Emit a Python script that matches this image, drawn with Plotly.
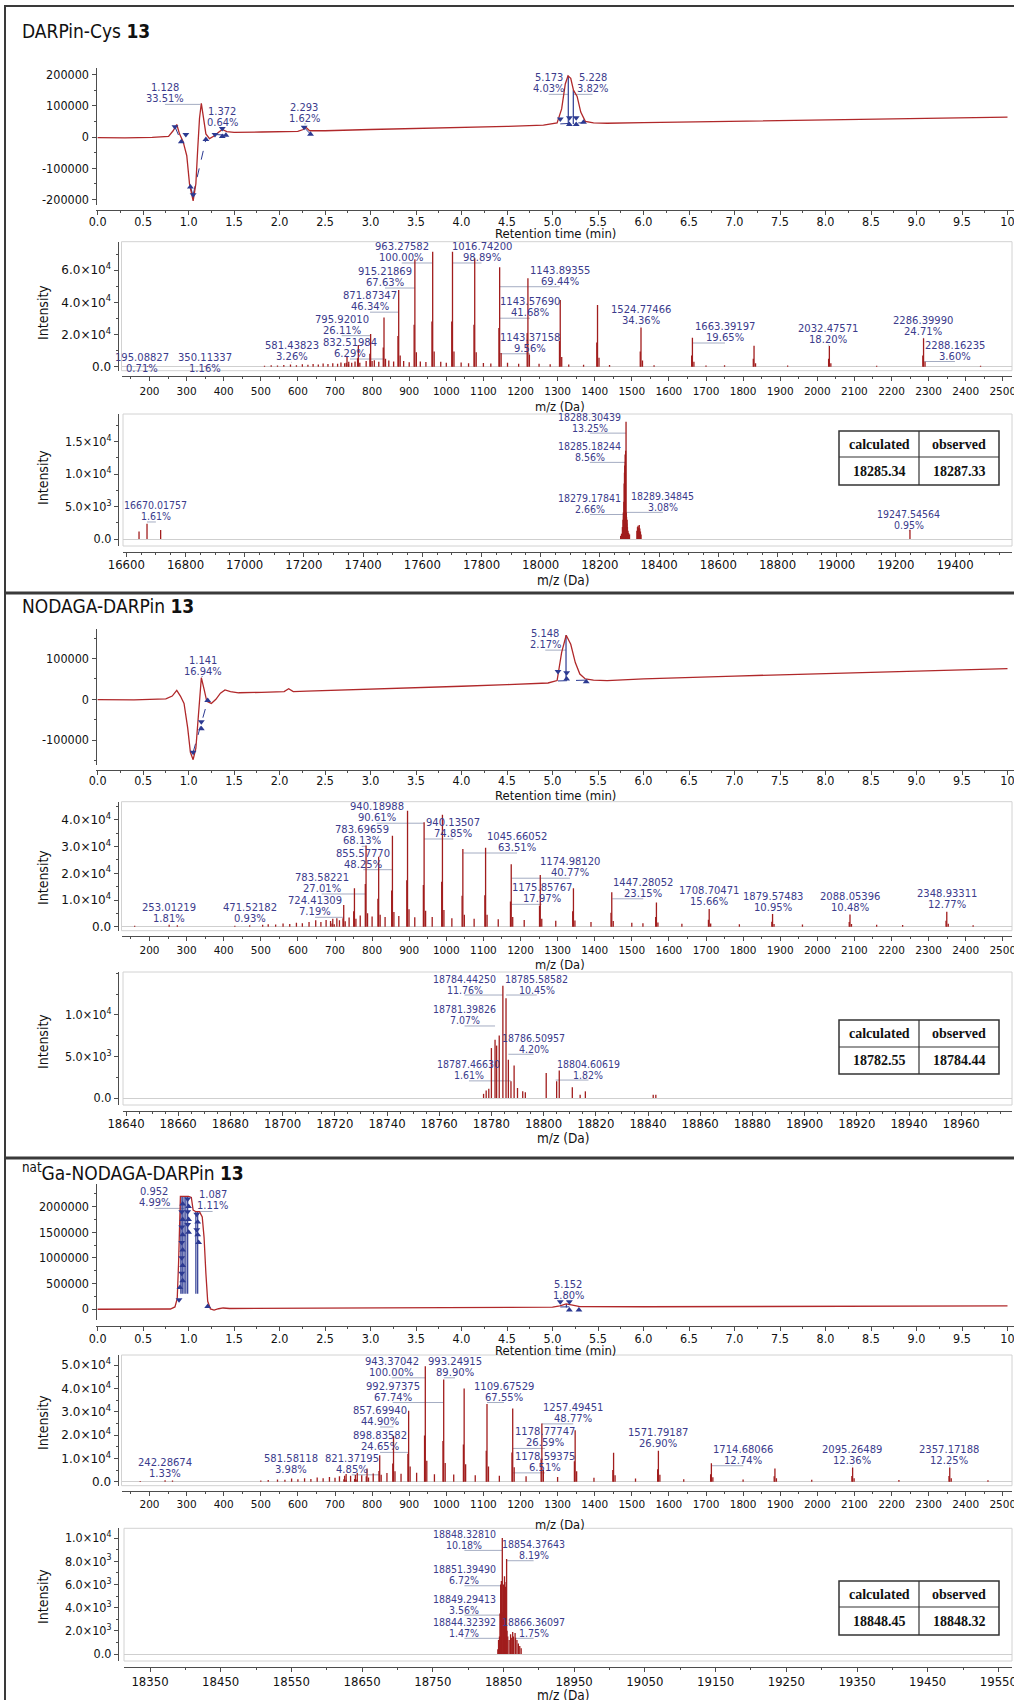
import plotly.graph_objects as go

W, H = 1014, 1700

# ======================= DATA =======================
PANEL_TITLES = ["DARPin-Cys <b>13</b>", "NODAGA-DARPin <b>13</b>",
                "<sup>nat</sup>Ga-NODAGA-DARPin <b>13</b>"]
TABLE_HEAD = ["calculated", "observed"]
TABLE_CALC = ["18285.34", "18782.55", "18848.45"]
TABLE_OBS = ["18287.33", "18784.44", "18848.32"]

# ---- chromatograms: retention time (min) / signal ----
CH_XTICKS = [0.0, 0.5, 1.0, 1.5, 2.0, 2.5, 3.0, 3.5, 4.0, 4.5, 5.0, 5.5, 6.0, 6.5,
             7.0, 7.5, 8.0, 8.5, 9.0, 9.5, 10.0]
CH_XTICK_TEXT = ["0.0", "0.5", "1.0", "1.5", "2.0", "2.5", "3.0", "3.5", "4.0", "4.5",
                 "5.0", "5.5", "6.0", "6.5", "7.0", "7.5", "8.0", "8.5", "9.0", "9.5", "10"]

CH1_T = [0.0, 0.3, 0.6, 0.78, 0.83, 0.87, 0.9, 0.94, 0.98, 1.01, 1.05, 1.08, 1.1, 1.12,
         1.14, 1.16, 1.19, 1.23, 1.28, 1.33, 1.37, 1.42, 1.5, 1.8, 2.2, 2.26, 2.29, 2.33,
         2.5, 3.0, 3.5, 4.0, 4.5, 4.9, 5.05, 5.1, 5.14, 5.17, 5.2, 5.23, 5.27, 5.31, 5.36,
         5.45, 5.6, 6.0, 7.0, 8.0, 9.0, 10.0]
CH1_V = [-2000, -3000, -1000, 2000, 20000, 40000, 10000, -15000, -60000, -150000, -205000,
         -150000, -40000, 60000, 108000, 70000, 10000, -5000, 3000, 15000, 24000, 17000,
         15000, 16000, 18000, 24000, 31000, 20000, 20000, 24000, 27000, 30000, 34000, 38000,
         45000, 90000, 170000, 196000, 188000, 150000, 130000, 80000, 50000, 45000, 44000,
         46000, 51000, 56000, 60000, 64000]
CH1_DN_T = [0.85, 0.97, 1.05, 1.29, 1.37, 2.27, 5.085, 5.185, 5.26]
CH1_DN_V = [33000, 8000, -185000, 8000, 27000, 31000, 58000, 62000, 62000]
CH1_UP_T = [0.92, 1.02, 1.19, 1.37, 1.41, 2.34, 5.185, 5.26, 5.34]
CH1_UP_V = [-15000, -160000, -8000, 2000, 6000, 9000, 40000, 40000, 47000]
CH1_SOLID = [(5.173, 196000, 5.173, 42000), (5.228, 150000, 5.228, 42000),
             (1.02, -160000, 1.05, -190000)]
CH1_DASH = [(0.85, 33000, 0.92, -15000), (1.05, -185000, 1.19, -8000),
            (1.29, 8000, 1.41, 6000), (2.27, 31000, 2.34, 9000), (5.085, 42000, 5.34, 46000)]
CH1_YTICKS = [-200000, -100000, 0, 100000, 200000]
CH1_LBL = [("1.128", "33.51%"), ("1.372", "0.64%"), ("2.293", "1.62%"),
           ("5.173", "4.03%"), ("5.228", "3.82%")]

CH2_T = [0.0, 0.4, 0.75, 0.82, 0.87, 0.91, 0.95, 0.99, 1.02, 1.05, 1.08, 1.11, 1.14, 1.17,
         1.2, 1.25, 1.3, 1.35, 1.4, 1.46, 1.55, 1.8, 2.05, 2.1, 2.15, 2.3, 2.6, 3.0, 3.5,
         4.0, 4.5, 4.95, 5.05, 5.1, 5.15, 5.2, 5.25, 5.3, 5.36, 5.45, 5.6, 6.0, 7.0, 8.0,
         9.0, 10.0]
CH2_V = [-1000, -1500, 1000, 8000, 22000, 8000, -10000, -70000, -130000, -148000, -120000,
         -20000, 53000, 25000, -5000, -10000, 0, 15000, 23000, 19000, 16000, 17000, 19000,
         26000, 19000, 20000, 22000, 24000, 28000, 32000, 36000, 40000, 46000, 115000,
         157000, 135000, 90000, 62000, 50000, 47000, 46000, 50000, 57000, 63000, 69000, 75000]
CH2_DN_T = [5.06, 5.155, 1.05, 1.14]
CH2_DN_V = [68000, 65000, -130000, -55000]
CH2_UP_T = [5.155, 5.37, 1.14, 1.21]
CH2_UP_V = [50000, 43000, -72000, -3000]
CH2_SOLID = [(5.148, 157000, 5.148, 50000)]
CH2_DASH = [(5.06, 45000, 5.37, 47000), (1.05, -130000, 1.21, -3000)]
CH2_YTICKS = [-100000, 0, 100000]
CH2_LBL = [("1.141", "16.94%"), ("5.148", "2.17%")]

CH3_T = [0.0, 0.5, 0.8, 0.85, 0.875, 0.89, 0.9, 0.91, 0.95, 1.0, 1.03, 1.05, 1.08, 1.12,
         1.15, 1.17, 1.19, 1.21, 1.24, 1.28, 1.33, 1.38, 1.45, 2.0, 3.0, 4.0, 5.0, 5.08,
         5.15, 5.22, 5.3, 6.0, 7.0, 8.0, 9.0, 10.0]
CH3_V = [-5000, -4000, 0, 40000, 200000, 900000, 1800000, 2200000, 2200000, 2200000,
         2180000, 1930000, 1900000, 1900000, 1800000, 1400000, 700000, 150000, 0, -20000,
         5000, 20000, 10000, 12000, 18000, 25000, 35000, 60000, 100000, 75000, 45000, 44000,
         48000, 52000, 56000, 60000]
CH3_DN_T = [0.895, 0.925, 0.925, 0.925, 0.925, 0.925, 0.99, 0.99, 0.99, 1.09, 1.09, 5.085, 5.185]
CH3_DN_V = [180000, 1900000, 1600000, 1300000, 1000000, 700000, 2150000, 1900000, 1650000,
            1850000, 1550000, 140000, 140000]
CH3_UP_T = [0.905, 0.935, 0.935, 0.935, 0.935, 0.935, 0.935, 1.0, 1.0, 1.0, 1.1, 1.1, 1.11,
            1.21, 5.185, 5.29]
CH3_UP_V = [420000, 2050000, 1750000, 1450000, 1150000, 850000, 550000, 2000000, 1750000,
            1500000, 1700000, 1450000, 1300000, 50000, -20000, -20000]
CH3_SOLID = [(0.915, 300000, 0.915, 2200000), (0.93, 300000, 0.93, 2200000),
             (0.95, 300000, 0.95, 2200000), (0.97, 300000, 0.97, 2200000),
             (0.99, 300000, 0.99, 2200000), (1.08, 300000, 1.08, 1900000),
             (1.1, 300000, 1.1, 1900000), (5.152, 30000, 5.152, 100000)]
CH3_DASH = [(5.085, 40000, 5.29, 45000)]
CH3_YTICKS = [0, 500000, 1000000, 1500000, 2000000]
CH3_LBL = [("0.952", "4.99%"), ("1.087", "1.11%"), ("5.152", "1.80%")]

# ---- ESI mass spectra: m/z / intensity ----
MS1_MZ = [732.4, 762.9, 796.0, 832.1, 871.7, 915.3, 963.3, 1016.7, 1076.6, 1143.8, 1220.0,
          1307.1, 1407.6, 1524.8, 1663.4, 1829.5, 2032.5, 2286.4]
MS1_INT = [6500, 13500, 20300, 30600, 47600, 66700, 71400, 71400, 67300, 61700, 54900,
           41400, 38300, 24400, 18000, 13000, 12800, 17600]
MS1_SAT_MZ = [730.4, 760.9, 794.0, 830.1, 869.7, 913.3, 961.3, 1014.7, 1074.6, 1141.8,
              1218.0, 1305.1, 1405.6, 1522.8, 1661.4, 1827.5, 2030.5, 2284.4]
MS1_SAT_INT = [2500, 5200, 8000, 12000, 19000, 26000, 28000, 28000, 26000, 24000, 21000,
               16000, 15000, 9500, 7000, 5000, 5000, 7000]
MS1_FOOT_MZ = [736.4, 766.9, 800.0, 836.1, 875.7, 919.3, 967.3, 1020.7, 1080.6, 1147.8,
               1224.0, 1311.1, 1411.6, 1528.8, 1667.4, 1833.5, 2036.5, 2290.4]
MS1_FOOT_INT = [1500, 2500, 3500, 5000, 7000, 9000, 9500, 9500, 9000, 8500, 7500, 6000,
                5500, 3800, 3000, 2200, 2200, 3000]
MS1_NOISE_MZ = [195, 350, 510, 528, 545, 562, 580, 596, 612, 627, 641, 655, 668, 681, 694,
                707, 716, 726, 737, 745, 754, 784, 806, 818, 845, 858, 885, 900, 930, 945,
                985, 1000, 1040, 1060, 1100, 1120, 1165, 1195, 1250, 1280, 1330, 1370, 1440,
                1560, 1700, 1750, 1920, 2160, 2440]
MS1_NOISE_INT = [400, 500, 600, 900, 700, 1100, 1300, 900, 1500, 1200, 1700, 1400, 2000,
                 1600, 2200, 1900, 2600, 2100, 3000, 2400, 3200, 3500, 4000, 3000, 3800,
                 3200, 3500, 2800, 3300, 2900, 3000, 2500, 2600, 2200, 2300, 2000, 2400,
                 1800, 1900, 1500, 1400, 1200, 1000, 900, 800, 900, 700, 600, 600]
MS1_LBL = [("195.08827", "0.71%"), ("350.11337", "1.16%"), ("581.43823", "3.26%"),
           ("832.51984", "6.29%"), ("795.92010", "26.11%"), ("871.87347", "46.34%"),
           ("915.21869", "67.63%"), ("963.27582", "100.00%"), ("1016.74200", "98.89%"),
           ("1143.89355", "69.44%"), ("1143.57690", "41.68%"), ("1143.37158", "9.56%"),
           ("1524.77466", "34.36%"), ("1663.39197", "19.65%"), ("2032.47571", "18.20%"),
           ("2286.39990", "24.71%"), ("2288.16235", "3.60%")]
MS1_YTICKS = [0, 20000, 40000, 60000]
MS1_YTICK_TEXT = ["0.0", "2.0×10<sup>4</sup>", "4.0×10<sup>4</sup>", "6.0×10<sup>4</sup>"]

MS2_MZ = [694.0, 723.5, 752.4, 783.7, 817.7, 854.8, 895.5, 940.2, 989.6, 1044.6, 1105.9,
          1175.0, 1253.3, 1342.7, 1446.0, 1566.4, 1708.6, 1879.4, 2088.1, 2349.0]
MS2_INT = [3000, 8100, 14400, 30400, 26200, 34100, 43400, 39100, 41900, 29100, 29600,
           23400, 19400, 14400, 12900, 9100, 6600, 4750, 4600, 5600]
MS2_SAT_MZ = [692.0, 721.5, 750.4, 781.7, 815.7, 852.8, 893.5, 938.2, 987.6, 1042.6,
              1103.9, 1173.0, 1251.3, 1340.7, 1444.0, 1564.4, 1706.6, 1877.4, 2086.1, 2347.0]
MS2_SAT_INT = [1200, 3200, 5800, 16000, 10500, 13600, 17400, 15600, 16800, 11600, 11800,
               9400, 7800, 5800, 5200, 3600, 2600, 1900, 1800, 2200]
MS2_FOOT_MZ = [698.0, 727.5, 756.4, 787.7, 821.7, 858.8, 899.5, 944.2, 993.6, 1048.6,
               1109.9, 1179.0, 1257.3, 1346.7, 1450.0, 1570.4, 1712.6, 1883.4, 2092.1, 2353.0]
MS2_FOOT_INT = [900, 2000, 3000, 5000, 4500, 5500, 6500, 6000, 6300, 4500, 4500, 3600,
                3000, 2300, 2100, 1600, 1200, 1000, 1000, 1100]
MS2_NOISE_MZ = [160, 253, 275, 430, 470, 505, 520, 540, 560, 578, 596, 612, 630, 648, 662,
                676, 688, 705, 712, 738, 768, 800, 835, 872, 915, 962, 1015, 1075, 1140,
                1210, 1295, 1390, 1500, 1530, 1635, 1790, 1960, 2160, 2230, 2420]
MS2_NOISE_INT = [400, 700, 500, 400, 500, 700, 900, 800, 1200, 1000, 1500, 1300, 1800,
                 2400, 1800, 2500, 2100, 3200, 2400, 3400, 4200, 3800, 3600, 4000, 3500,
                 3600, 3200, 3000, 2800, 2500, 2200, 1800, 1500, 1300, 1100, 900, 800, 700,
                 600, 500]
MS2_LBL = [("253.01219", "1.81%"), ("471.52182", "0.93%"), ("724.41309", "7.19%"),
           ("783.58221", "27.01%"), ("855.57770", "48.25%"), ("783.69659", "68.13%"),
           ("940.18988", "90.61%"), ("940.13507", "74.85%"), ("1045.66052", "63.51%"),
           ("1174.98120", "40.77%"), ("1175.85767", "17.97%"), ("1447.28052", "23.15%"),
           ("1708.70471", "15.66%"), ("1879.57483", "10.95%"), ("2088.05396", "10.48%"),
           ("2348.93311", "12.77%")]
MS2_YTICKS = [0, 10000, 20000, 30000, 40000]
MS2_YTICK_TEXT = ["0.0", "1.0×10<sup>4</sup>", "2.0×10<sup>4</sup>", "3.0×10<sup>4</sup>",
                  "4.0×10<sup>4</sup>"]

MS3_MZ = [725.9, 754.9, 786.3, 820.5, 857.7, 898.5, 943.4, 993.0, 1048.1, 1109.7, 1179.0,
          1257.6, 1347.3, 1450.9, 1571.7, 1714.5, 1885.8, 2095.2, 2357.0]
MS3_INT = [2500, 2900, 5700, 11400, 19600, 30400, 49600, 43900, 40000, 33300, 31400,
           25000, 22100, 12400, 13300, 7900, 5700, 6100, 6100]
MS3_SAT_MZ = [723.9, 752.9, 784.3, 818.5, 855.7, 896.5, 941.4, 991.0, 1046.1, 1107.7,
              1177.0, 1255.6, 1345.3, 1448.9, 1569.7, 1712.5, 1883.8, 2093.2, 2355.0]
MS3_SAT_INT = [1000, 1200, 2300, 4600, 7800, 12000, 19800, 17500, 16000, 13300, 12500,
               10000, 8800, 5000, 5300, 3200, 2300, 2400, 2400]
MS3_FOOT_MZ = [729.9, 758.9, 790.3, 824.5, 861.7, 902.5, 947.4, 997.0, 1052.1, 1113.7,
               1183.0, 1261.6, 1351.3, 1454.9, 1575.7, 1718.5, 1889.8, 2099.2, 2361.0]
MS3_FOOT_INT = [800, 900, 1800, 3000, 4500, 6500, 9000, 8000, 7500, 6500, 6200, 5000,
                4500, 2800, 3000, 1900, 1500, 1500, 1500]
MS3_NOISE_MZ = [175, 242, 262, 500, 520, 545, 565, 583, 600, 618, 635, 652, 668, 685, 700,
                712, 730, 742, 760, 772, 803, 840, 878, 920, 968, 1020, 1078, 1143, 1215,
                1300, 1398, 1510, 1640, 1800, 1985, 2220, 2460]
MS3_NOISE_INT = [300, 600, 500, 500, 700, 900, 800, 1400, 1100, 1500, 1200, 1800, 1500,
                 2000, 1700, 2300, 3300, 2500, 3800, 2800, 3500, 3700, 3400, 3800, 3200,
                 3100, 2800, 2600, 2300, 2000, 1700, 1400, 1100, 900, 800, 700, 600]
MS3_LBL = [("242.28674", "1.33%"), ("581.58118", "3.98%"), ("821.37195", "4.85%"),
           ("898.83582", "24.65%"), ("857.69940", "44.90%"), ("992.97375", "67.74%"),
           ("943.37042", "100.00%"), ("993.24915", "89.90%"), ("1109.67529", "67.55%"),
           ("1257.49451", "48.77%"), ("1178.77747", "26.59%"), ("1178.59375", "6.51%"),
           ("1571.79187", "26.90%"), ("1714.68066", "12.74%"), ("2095.26489", "12.36%"),
           ("2357.17188", "12.25%")]
MS3_YTICKS = [0, 10000, 20000, 30000, 40000, 50000]
MS3_YTICK_TEXT = ["0.0", "1.0×10<sup>4</sup>", "2.0×10<sup>4</sup>", "3.0×10<sup>4</sup>",
                  "4.0×10<sup>4</sup>", "5.0×10<sup>4</sup>"]

# ---- deconvoluted spectra: mass / intensity ----
DC1_MZ = [16643, 16670.0, 16716, 18270, 18273, 18276, 18278, 18279.2, 18280, 18281, 18282,
          18283, 18284, 18285.2, 18286, 18287, 18288.3, 18289.3, 18290, 18291, 18292, 18293,
          18295, 18297, 18300, 18325, 18327, 18329, 18331, 18333, 18335, 18337, 18339, 19247.5]
DC1_INT = [1160, 2330, 1380, 490, 820, 1830, 2950, 4060, 3500, 5740, 8530, 10200, 11320,
           13000, 11880, 13560, 18020, 4060, 3390, 2390, 2950, 1830, 1270, 940, 710, 1270,
           1830, 2050, 1720, 2160, 1600, 1160, 710, 1440]
DC1_LBL = [("18288.30439", "13.25%"), ("18285.18244", "8.56%"), ("18279.17841", "2.66%"),
           ("18289.34845", "3.08%"), ("16670.01757", "1.61%"), ("19247.54564", "0.95%")]
DC1_YTICKS = [0, 5000, 10000, 15000]
DC1_YTICK_TEXT = ["0.0", "5.0×10<sup>3</sup>", "1.0×10<sup>4</sup>", "1.5×10<sup>4</sup>"]

DC2_MZ = [18777, 18778, 18779, 18780, 18781.4, 18782, 18783, 18784.4, 18785.6, 18786.5,
          18787.5, 18788.7, 18790, 18792, 18793, 18801, 18805, 18806, 18811, 18814, 18816,
          18842, 18843]
DC2_INT = [500, 900, 1100, 6000, 7000, 6300, 7500, 13500, 12000, 4600, 2000, 3900, 1200,
           800, 700, 3000, 2000, 3300, 1300, 400, 800, 400, 400]
DC2_LBL = [("18784.44250", "11.76%"), ("18785.58582", "10.45%"), ("18781.39826", "7.07%"),
           ("18786.50957", "4.20%"), ("18787.46630", "1.61%"), ("18804.60619", "1.82%")]
DC2_YTICKS = [0, 5000, 10000]
DC2_YTICK_TEXT = ["0.0", "5.0×10<sup>3</sup>", "1.0×10<sup>4</sup>"]

DC3_MZ = [18842, 18843, 18844.3, 18845, 18846, 18847, 18848.3, 18849.3, 18850, 18851.4,
          18852, 18853, 18854.4, 18855, 18856, 18858, 18860, 18861, 18863, 18864, 18866.4,
          18867, 18869, 18871, 18873, 18875]
DC3_INT = [400, 1200, 1500, 3500, 6000, 6300, 10000, 3600, 6000, 6700, 6200, 5800, 8200,
           2000, 1500, 1200, 1700, 1400, 1900, 1500, 1800, 1400, 1200, 900, 700, 500]
DC3_LBL = [("18848.32810", "10.18%"), ("18854.37643", "8.19%"), ("18851.39490", "6.72%"),
           ("18849.29413", "3.56%"), ("18844.32392", "1.47%"), ("18866.36097", "1.75%")]
DC3_YTICKS = [0, 2000, 4000, 6000, 8000, 10000]
DC3_YTICK_TEXT = ["0.0", "2.0×10<sup>3</sup>", "4.0×10<sup>3</sup>", "6.0×10<sup>3</sup>",
                  "8.0×10<sup>3</sup>", "1.0×10<sup>4</sup>"]

# ======================= LAYOUT GEOMETRY (pixels) =======================
NARROW = "Liberation Sans Narrow, DejaVu Sans Condensed, Arial Narrow, sans-serif"
VERD = "DejaVu Sans, Verdana, sans-serif"
COND = "DejaVu Sans Condensed, DejaVu Sans, sans-serif"
SERIF = "Liberation Serif, Times New Roman, serif"
RED = "#a11d1d"
CHRED = "#b0282a"
BLUE = "#2c3a92"
LBLC = "#3b3b8c"
LEAD = "#a4acc2"
AX = "#4d4d4d"
FRAME = "#d2d2d2"

MSX = (200, 149.5, 2400, 965.7)
CHX = (0, 97.6, 10, 1007.5)
G = {
    'c1': dict(n=1, xm=CHX, ym=(0, 137.0, 100000, 105.8), dx=(95.5, 1014), dy=(68, 205), xline=210, yline=95.5, so=-4),
    'm1': dict(n=2, xm=MSX, ym=(0, 366.7, 20000, 334.5), dx=(121.5, 1012), dy=(241.7, 370.7), xline=375.7, yline=117.5, so=2),
    'd1': dict(n=3, xm=(16600, 126.3, 19400, 955.1), ym=(0, 539, 5000, 506.5), dx=(123, 1012), dy=(414, 546), xline=552, yline=118, so=-4),
    'c2': dict(n=4, xm=CHX, ym=(0, 699.3, 100000, 658.5), dx=(95.5, 1014), dy=(629, 765), xline=770, yline=95.5, so=-5),
    'm2': dict(n=5, xm=MSX, ym=(0, 926.7, 10000, 900.0), dx=(121.5, 1012), dy=(801.7, 930.7), xline=935.7, yline=117.5, so=1),
    'd2': dict(n=6, xm=(18640, 126, 18960, 961.2), ym=(0, 1098, 5000, 1056.4), dx=(123, 1012), dy=(972, 1105), xline=1111, yline=118, so=-4),
    'c3': dict(n=7, xm=CHX, ym=(0, 1309, 500000, 1283.4), dx=(95.5, 1014), dy=(1184, 1320), xline=1325.5, yline=95.5, so=-3),
    'm3': dict(n=8, xm=MSX, ym=(0, 1481.7, 10000, 1458.4), dx=(121.5, 1012), dy=(1355, 1485.7), xline=1490.7, yline=117.5, so=0),
    'd3': dict(n=9, xm=(18350, 150, 19350, 857), ym=(0, 1654, 2000, 1630.8), dx=(124, 1012), dy=(1528.3, 1661), xline=1667, yline=118, so=-2),
}
# label placements (data coordinates of label centre)
CH1_LBL_POS = [(0.74, 139800), (1.371, 64500), (2.27, 77400), (4.957, 172000), (5.44, 172000)]
CH2_LBL_POS = [(1.158, 82800), (4.92, 147500)]
CH3_LBL_POS = [(0.625, 2180000), (1.264, 2120000), (5.17, 364600)]
MS1_LBL_POS = [(179, 2400), (349.6, 2400), (583, 9560), (740.4, 11600), (718, 26100),
               (794.3, 40700), (834.8, 55700), (879.8, 71250), (1095, 71250), (1306, 56500),
               (1225.6, 36950), (1225.6, 14850), (1523.9, 32100), (1751, 21550),
               (2029.6, 20200), (2285.8, 25150), (2371, 10060)]
MS2_LBL_POS = [(253.4, 5300), (470.9, 5000), (646, 7640), (664, 16370), (776.3, 25470),
               (772, 34230), (812.3, 42880), (1018.9, 36970), (1190.7, 31720),
               (1333.4, 22280), (1257, 12500), (1531, 14570), (1709, 11390), (1880, 9250),
               (2088, 9250), (2349, 10190)]
MS3_LBL_POS = [(241.8, 5950), (581.4, 7670), (745, 7670), (821.3, 17300), (821.3, 28200),
               (855.5, 38700), (852.8, 49300), (1023.5, 49300), (1155.4, 38700),
               (1342.3, 29530), (1266, 19000), (1266, 8500), (1571.4, 18860),
               (1800.5, 11570), (2094.3, 11570), (2355.6, 11570)]
DC1_LBL_POS = [(18166, 17980), (18166, 13480), (18166, 5460), (18413, 5790), (16700, 4310),
               (19244, 2970)]
DC2_LBL_POS = [(18769.7, 13700), (18797.4, 13700), (18769.7, 9980), (18796.2, 6580),
               (18771.4, 3380), (18817.2, 3480)]
DC3_LBL_POS = [(18794.7, 9880), (18892.6, 8990), (18794.7, 6830), (18794.7, 4300),
               (18794.7, 2300), (18892.6, 2300)]
TBL_GEOM = [(839, 919, 999, 431, 457, 485), (839, 919, 999, 1020, 1047, 1074),
            (839, 919, 999, 1581, 1607, 1635)]
TITLE_Y = [31, 606, 1172]
CH_TITLE_Y = {'c1': 233, 'c2': 795, 'c3': 1350}
MZ_TITLE_Y = {'m1': 406.5, 'm2': 964.5, 'm3': 1524.5, 'd1': 580, 'd2': 1138, 'd3': 1695}
INT_TITLE_Y = {'m1': 313, 'm2': 878, 'm3': 1423, 'd1': 478, 'd2': 1042, 'd3': 1597}

# ======================= BUILD =======================
fig = go.Figure()
shapes, annos, axes = [], [], {}


def rng(m, a, b):
    v1, p1, v2, p2 = m
    s = (p2 - p1) / (v2 - v1)
    return [v1 + (a - p1) / s, v1 + (b - p1) / s]


def yv2p(g, v):
    v1, p1, v2, p2 = g['ym']
    return p1 + (v - v1) * (p2 - p1) / (v2 - v1)


def yp2v(g, p):
    v1, p1, v2, p2 = g['ym']
    return v1 + (p - p1) * (v2 - v1) / (p2 - p1)


def refs(g):
    s = '' if g['n'] == 1 else str(g['n'])
    return 'x' + s, 'y' + s


def setup_axes(g, xt, yt, frame=False, zero=False):
    s = '' if g['n'] == 1 else str(g['n'])
    base = dict(showline=True, linecolor=AX, linewidth=1, ticks='outside', ticklen=4,
                tickcolor=AX, tickwidth=1, showgrid=False, zeroline=False, fixedrange=True,
                anchor='free')
    xa = dict(base, domain=[g['dx'][0] / W, g['dx'][1] / W], range=rng(g['xm'], *g['dx']),
              position=1 - g['xline'] / H, ticklabeloverflow='allow',
              ticklabelstandoff=g['so'])
    xa.update(xt)
    ya = dict(base, domain=[1 - g['dy'][1] / H, 1 - g['dy'][0] / H],
              range=rng(g['ym'], g['dy'][1], g['dy'][0]), position=g['yline'] / W)
    if zero:
        ya.update(zeroline=True, zerolinecolor='#cfcfcf', zerolinewidth=1)
    ya.update(yt)
    axes['xaxis' + s] = xa
    axes['yaxis' + s] = ya
    if frame:
        shapes.append(dict(type='rect', xref='paper', yref='paper', layer='below',
                           x0=g['dx'][0] / W, x1=g['dx'][1] / W,
                           y0=1 - g['dy'][1] / H, y1=1 - g['dy'][0] / H,
                           line=dict(color=FRAME, width=1)))


def add_trace(g, tr):
    xr, yr = refs(g)
    tr.update(xaxis=xr, yaxis=yr, showlegend=False, hoverinfo='skip')
    fig.add_trace(tr)


def sticks(*pairs):
    xs, ys = [], []
    for ms, hs in pairs:
        for m, h in zip(ms, hs):
            xs += [m, m, None]
            ys += [0, h, None]
    return xs, ys


def segs(lst):
    xs, ys = [], []
    for t0, v0, t1, v1 in lst:
        xs += [t0, t1, None]
        ys += [v0, v1, None]
    return xs, ys


def add_labels(g, lbls, pos, font, gap=5.5):
    xr, yr = refs(g)
    for (a, b), (lx, ly) in zip(lbls, pos):
        for txt, dy in ((a, gap), (b, -gap)):
            annos.append(dict(xref=xr, yref=yr, x=lx, y=ly, yshift=dy, text=txt,
                              showarrow=False, font=font, xanchor='center', yanchor='middle',
                              borderpad=0))
        yb = yp2v(g, yv2p(g, ly) + 2 * gap)
        shapes.append(dict(type='line', xref=xr, yref=yr, x0=lx, x1=float(a), y0=yb, y1=yb,
                           layer='below', line=dict(color=LEAD, width=1)))


def ptext(px, py, text, font, xanchor='center', angle=0):
    annos.append(dict(xref='paper', yref='paper', x=px / W, y=1 - py / H, text=text,
                      showarrow=False, font=font, xanchor=xanchor, yanchor='middle',
                      textangle=angle, borderpad=0))


# ---- chromatograms ----
ch_sets = [('c1', CH1_T, CH1_V, CH1_DN_T, CH1_DN_V, CH1_UP_T, CH1_UP_V, CH1_SOLID, CH1_DASH,
            CH1_YTICKS, CH1_LBL, CH1_LBL_POS, 50000),
           ('c2', CH2_T, CH2_V, CH2_DN_T, CH2_DN_V, CH2_UP_T, CH2_UP_V, CH2_SOLID, CH2_DASH,
            CH2_YTICKS, CH2_LBL, CH2_LBL_POS, 50000),
           ('c3', CH3_T, CH3_V, CH3_DN_T, CH3_DN_V, CH3_UP_T, CH3_UP_V, CH3_SOLID, CH3_DASH,
            CH3_YTICKS, CH3_LBL, CH3_LBL_POS, 250000)]
tickfont_n = dict(family=NARROW, size=12.5, color='#111')
for key, t, v, dnt, dnv, upt, upv, solid, dash, yt, lbl, lpos, ymin in ch_sets:
    g = G[key]
    setup_axes(g,
               dict(tickmode='array', tickvals=CH_XTICKS, ticktext=CH_XTICK_TEXT,
                    tickfont=tickfont_n, minor=dict(dtick=0.25, tick0=0, ticklen=2, tickcolor=AX)),
               dict(tickmode='array', tickvals=yt, ticktext=[str(x) for x in yt],
                    tickfont=tickfont_n, minor=dict(dtick=ymin, tick0=0, ticklen=2, tickcolor=AX)))
    sx, sy = segs(solid)
    add_trace(g, go.Scatter(x=sx, y=sy, mode='lines', line=dict(color=BLUE, width=1.2)))
    dx_, dy_ = segs(dash)
    add_trace(g, go.Scatter(x=dx_, y=dy_, mode='lines', line=dict(color=BLUE, width=1, dash='dash')))
    add_trace(g, go.Scatter(x=t, y=v, mode='lines', line=dict(color=CHRED, width=1.3)))
    add_trace(g, go.Scatter(x=dnt, y=dnv, mode='markers',
                            marker=dict(symbol='triangle-down', size=6, color=BLUE)))
    add_trace(g, go.Scatter(x=upt, y=upv, mode='markers',
                            marker=dict(symbol='triangle-up', size=6, color=BLUE)))
    add_labels(g, lbl, lpos, dict(family=NARROW, size=11, color=LBLC))
    ptext(555, CH_TITLE_Y[key], 'Retention time (min)', dict(family=NARROW, size=13, color='#111'))

# ---- ESI spectra ----
ms_sets = [('m1', (MS1_MZ, MS1_INT), (MS1_SAT_MZ, MS1_SAT_INT), (MS1_FOOT_MZ, MS1_FOOT_INT),
            (MS1_NOISE_MZ, MS1_NOISE_INT), MS1_YTICKS, MS1_YTICK_TEXT, 10000, MS1_LBL, MS1_LBL_POS),
           ('m2', (MS2_MZ, MS2_INT), (MS2_SAT_MZ, MS2_SAT_INT), (MS2_FOOT_MZ, MS2_FOOT_INT),
            (MS2_NOISE_MZ, MS2_NOISE_INT), MS2_YTICKS, MS2_YTICK_TEXT, 5000, MS2_LBL, MS2_LBL_POS),
           ('m3', (MS3_MZ, MS3_INT), (MS3_SAT_MZ, MS3_SAT_INT), (MS3_FOOT_MZ, MS3_FOOT_INT),
            (MS3_NOISE_MZ, MS3_NOISE_INT), MS3_YTICKS, MS3_YTICK_TEXT, 5000, MS3_LBL, MS3_LBL_POS)]
for key, main, sat, foot, noise, yt, ytt, ymin, lbl, lpos in ms_sets:
    g = G[key]
    setup_axes(g,
               dict(tickmode='linear', tick0=0, dtick=100, tickformat='d',
                    tickfont=dict(family=VERD, size=10.5, color='#111'),
                    minor=dict(dtick=50, tick0=0, ticklen=2, tickcolor=AX)),
               dict(tickmode='array', tickvals=yt, ticktext=ytt,
                    tickfont=dict(family=VERD, size=12, color='#111'),
                    minor=dict(dtick=ymin, tick0=0, ticklen=2, tickcolor=AX)),
               frame=True, zero=True)
    sx, sy = sticks(noise, foot, sat, main)
    add_trace(g, go.Scatter(x=sx, y=sy, mode='lines', line=dict(color=RED, width=1.3)))
    add_labels(g, lbl, lpos, dict(family=VERD, size=10, color=LBLC))
    ptext(560, MZ_TITLE_Y[key], 'm/z (Da)', dict(family=VERD, size=11.5, color='#111'))

# ---- deconvoluted spectra ----
dc_sets = [('d1', DC1_MZ, DC1_INT, DC1_YTICKS, DC1_YTICK_TEXT, 2500, DC1_LBL, DC1_LBL_POS, 200, 50),
           ('d2', DC2_MZ, DC2_INT, DC2_YTICKS, DC2_YTICK_TEXT, 2500, DC2_LBL, DC2_LBL_POS, 20, 5),
           ('d3', DC3_MZ, DC3_INT, DC3_YTICKS, DC3_YTICK_TEXT, 1000, DC3_LBL, DC3_LBL_POS, 100, 50)]
for key, mz, it, yt, ytt, ymin, lbl, lpos, dt, mdt in dc_sets:
    g = G[key]
    t0 = g['xm'][0]
    setup_axes(g,
               dict(tickmode='linear', tick0=t0, dtick=dt, tickformat='d',
                    tickfont=dict(family=NARROW, size=13, color='#111'),
                    minor=dict(dtick=mdt, tick0=t0, ticklen=2, tickcolor=AX)),
               dict(tickmode='array', tickvals=yt, ticktext=ytt,
                    tickfont=dict(family=NARROW, size=12.5, color='#111'),
                    minor=dict(dtick=ymin, tick0=0, ticklen=2, tickcolor=AX)),
               frame=True, zero=True)
    sx, sy = sticks((mz, it))
    add_trace(g, go.Scatter(x=sx, y=sy, mode='lines', line=dict(color=RED, width=1.3)))
    add_labels(g, lbl, lpos, dict(family=COND, size=10.5, color=LBLC))
    ptext(563, MZ_TITLE_Y[key], 'm/z (Da)', dict(family=NARROW, size=13.5, color='#111'))

# ---- intensity titles ----
for key, yy in INT_TITLE_Y.items():
    ptext(43, yy, 'Intensity', dict(family=NARROW, size=14, color='#111'), angle=-90)

# ---- panel titles ----
for txt, yy in zip(PANEL_TITLES, TITLE_Y):
    ptext(21, yy, txt, dict(family=NARROW, size=19, color='#111'), xanchor='left')

# ---- tables ----
for (x0, x1, x2, y0, y1, y2), c, o in zip(TBL_GEOM, TABLE_CALC, TABLE_OBS):
    shapes.append(dict(type='rect', xref='paper', yref='paper', x0=x0 / W, x1=x2 / W,
                       y0=1 - y2 / H, y1=1 - y0 / H, fillcolor='white',
                       line=dict(color='#333', width=1.5)))
    shapes.append(dict(type='line', xref='paper', yref='paper', x0=x1 / W, x1=x1 / W,
                       y0=1 - y2 / H, y1=1 - y0 / H, line=dict(color='#333', width=1.2)))
    shapes.append(dict(type='line', xref='paper', yref='paper', x0=x0 / W, x1=x2 / W,
                       y0=1 - y1 / H, y1=1 - y1 / H, line=dict(color='#333', width=1.2)))
    for txt, cx, cy in ((TABLE_HEAD[0], (x0 + x1) / 2, (y0 + y1) / 2),
                        (TABLE_HEAD[1], (x1 + x2) / 2, (y0 + y1) / 2),
                        (c, (x0 + x1) / 2, (y1 + y2) / 2), (o, (x1 + x2) / 2, (y1 + y2) / 2)):
        ptext(cx, cy, '<b>' + txt + '</b>', dict(family=SERIF, size=14, color='#111'))

# ---- outer border and panel separators ----
shapes.append(dict(type='rect', xref='paper', yref='paper', x0=5 / W, x1=1.02, y0=-0.01,
                   y1=1 - 6 / H, line=dict(color='#3a3a3a', width=2)))
for yy in (593, 1158):
    shapes.append(dict(type='line', xref='paper', yref='paper', x0=5 / W, x1=1.0,
                       y0=1 - yy / H, y1=1 - yy / H, line=dict(color='#3a3a3a', width=3)))

fig.update_layout(width=W, height=H, margin=dict(l=0, r=0, t=0, b=0, autoexpand=False),
                  paper_bgcolor='white', plot_bgcolor='white', shapes=shapes,
                  annotations=annos, showlegend=False, **axes)
fig.write_html("out.html")
